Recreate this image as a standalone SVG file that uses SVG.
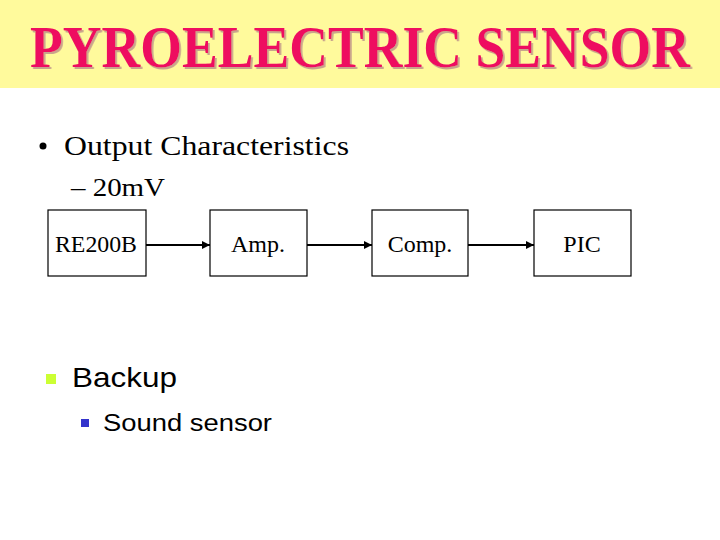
<svg xmlns="http://www.w3.org/2000/svg" width="720" height="540" viewBox="0 0 720 540">
<style>
.title{font-family:"Liberation Serif","Times New Roman",serif;font-weight:bold;font-size:60px;text-anchor:middle}
.serif{font-family:"Liberation Serif","Times New Roman",serif;fill:#000}
.sans{font-family:"Liberation Sans",Arial,sans-serif;fill:#000}
.box{fill:#fff;stroke:#000;stroke-width:1.2}
.lbl{font-family:"Liberation Serif","Times New Roman",serif;font-size:24px;text-anchor:middle;fill:#000}
.conn{stroke:#000;stroke-width:2;fill:none;marker-end:url(#ah)}
</style>
<defs>
<marker id="ah" viewBox="0 0 10 10" refX="10" refY="5" markerWidth="4" markerHeight="4" orient="auto" markerUnits="strokeWidth">
<path d="M0,0 L10,5 L0,10 z" fill="#000"/>
</marker>
<filter id="shadow" x="-5%" y="-20%" width="110%" height="150%">
<feDropShadow dx="2" dy="2" stdDeviation="0" flood-color="#C9A48C" flood-opacity="1"/>
</filter>
</defs>
<rect x="0" y="0" width="720" height="88" fill="#FFFA9C"/>
<g id="title">
<text class="title" transform="translate(360,67) scale(0.894,1)" x="0" y="0" fill="#EE1060" filter="url(#shadow)">PYROELECTRIC SENSOR</text>
</g>
<g id="bullets">
<circle cx="43" cy="146" r="3.5" fill="#000"/>
<text class="serif" x="64" y="155" font-size="28" textLength="285" lengthAdjust="spacingAndGlyphs">Output Characteristics</text>
<text class="serif" x="71" y="196" font-size="25" textLength="94" lengthAdjust="spacingAndGlyphs">– 20mV</text>
<rect x="46" y="374" width="10" height="10" fill="#CCFF33"/>
<text class="sans" x="72" y="387" font-size="28" textLength="105" lengthAdjust="spacingAndGlyphs">Backup</text>
<rect x="81" y="419" width="8" height="8" fill="#3333CC"/>
<text class="sans" x="103" y="431" font-size="23" textLength="169" lengthAdjust="spacingAndGlyphs">Sound sensor</text>
</g>
<g id="connectors">
<line class="conn" x1="146" y1="245" x2="210" y2="245"/>
<line class="conn" x1="307" y1="245" x2="372" y2="245"/>
<line class="conn" x1="468" y1="245" x2="534" y2="245"/>
</g>
<g id="n-re200b"><rect class="box" x="48" y="210" width="98" height="66"/><text class="lbl" x="96" y="252" textLength="82" lengthAdjust="spacingAndGlyphs">RE200B</text></g>
<g id="n-amp"><rect class="box" x="210" y="210" width="97" height="66"/><text class="lbl" x="258" y="252">Amp.</text></g>
<g id="n-comp"><rect class="box" x="372" y="210" width="96" height="66"/><text class="lbl" x="420" y="252">Comp.</text></g>
<g id="n-pic"><rect class="box" x="534" y="210" width="97" height="66"/><text class="lbl" x="582" y="252">PIC</text></g>
</svg>
